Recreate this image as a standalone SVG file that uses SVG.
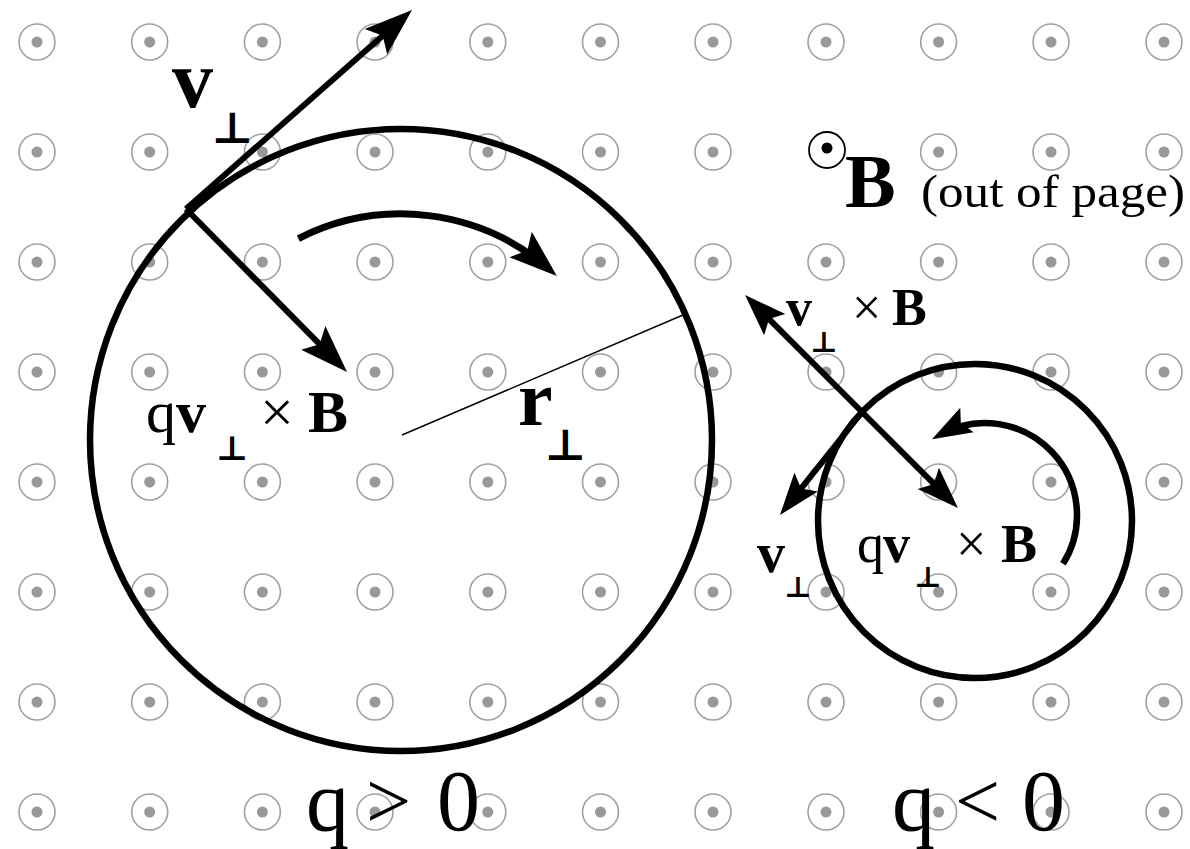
<svg xmlns="http://www.w3.org/2000/svg" xmlns:xlink="http://www.w3.org/1999/xlink" width="1190" height="849" viewBox="0 0 1190 849">
<style>
.orbit{fill:none;stroke:#000;stroke-width:6.5}
.arr{fill:none;stroke:#000;stroke-width:6;marker-end:url(#ah)}
.arrm{fill:none;stroke:#000;stroke-width:6;marker-end:url(#ahm)}
.arc{fill:none;stroke:#000;stroke-width:7;marker-end:url(#ah)}
.arcs{fill:none;stroke:#000;stroke-width:6.5;marker-end:url(#ahs)}
.thin{fill:none;stroke:#000;stroke-width:1.4}
text{font-family:"Liberation Serif","Times New Roman",serif;fill:#000}
.b{font-weight:bold}
.p{font-family:"DejaVu Serif","DejaVu Sans",serif;font-weight:bold}
</style>
<defs>
<g id="dot"><circle r="18" fill="none" stroke="#a0a0a0" stroke-width="1.6"/><circle r="5.5" fill="#999"/></g>
<marker id="ah" markerUnits="userSpaceOnUse" markerWidth="50" markerHeight="38" refX="38" refY="19" orient="auto"><path d="M0,2 L48,19 L0,36 L9,19 z" fill="#000"/></marker>
<marker id="ahm" markerUnits="userSpaceOnUse" markerWidth="44" markerHeight="34" refX="32" refY="17" orient="auto"><path d="M0,2 L42,17 L0,32 L8,17 z" fill="#000"/></marker>
<marker id="ahs" markerUnits="userSpaceOnUse" markerWidth="42" markerHeight="32" refX="30" refY="16" orient="auto"><path d="M0,2 L40,16 L0,30 L7,16 z" fill="#000"/></marker>
</defs>
<rect width="1190" height="849" fill="#fff"/>
<g id="field">
<use xlink:href="#dot" x="37" y="42"/><use xlink:href="#dot" x="149.7" y="42"/><use xlink:href="#dot" x="262.4" y="42"/><use xlink:href="#dot" x="375" y="42"/><use xlink:href="#dot" x="487.8" y="42"/><use xlink:href="#dot" x="600.5" y="42"/><use xlink:href="#dot" x="713" y="42"/><use xlink:href="#dot" x="826" y="42"/><use xlink:href="#dot" x="938.6" y="42"/><use xlink:href="#dot" x="1051" y="42"/><use xlink:href="#dot" x="1164" y="42"/>
<use xlink:href="#dot" x="37" y="152"/><use xlink:href="#dot" x="149.7" y="152"/><use xlink:href="#dot" x="262.4" y="152"/><use xlink:href="#dot" x="375" y="152"/><use xlink:href="#dot" x="487.8" y="152"/><use xlink:href="#dot" x="600.5" y="152"/><use xlink:href="#dot" x="713" y="152"/><use xlink:href="#dot" x="938.6" y="152"/><use xlink:href="#dot" x="1051" y="152"/><use xlink:href="#dot" x="1164" y="152"/>
<use xlink:href="#dot" x="37" y="262"/><use xlink:href="#dot" x="149.7" y="262"/><use xlink:href="#dot" x="262.4" y="262"/><use xlink:href="#dot" x="375" y="262"/><use xlink:href="#dot" x="487.8" y="262"/><use xlink:href="#dot" x="600.5" y="262"/><use xlink:href="#dot" x="713" y="262"/><use xlink:href="#dot" x="826" y="262"/><use xlink:href="#dot" x="938.6" y="262"/><use xlink:href="#dot" x="1051" y="262"/><use xlink:href="#dot" x="1164" y="262"/>
<use xlink:href="#dot" x="37" y="372"/><use xlink:href="#dot" x="149.7" y="372"/><use xlink:href="#dot" x="262.4" y="372"/><use xlink:href="#dot" x="375" y="372"/><use xlink:href="#dot" x="487.8" y="372"/><use xlink:href="#dot" x="600.5" y="372"/><use xlink:href="#dot" x="713" y="372"/><use xlink:href="#dot" x="826" y="372"/><use xlink:href="#dot" x="938.6" y="372"/><use xlink:href="#dot" x="1051" y="372"/><use xlink:href="#dot" x="1164" y="372"/>
<use xlink:href="#dot" x="37" y="482"/><use xlink:href="#dot" x="149.7" y="482"/><use xlink:href="#dot" x="262.4" y="482"/><use xlink:href="#dot" x="375" y="482"/><use xlink:href="#dot" x="487.8" y="482"/><use xlink:href="#dot" x="600.5" y="482"/><use xlink:href="#dot" x="713" y="482"/><use xlink:href="#dot" x="826" y="482"/><use xlink:href="#dot" x="938.6" y="482"/><use xlink:href="#dot" x="1051" y="482"/><use xlink:href="#dot" x="1164" y="482"/>
<use xlink:href="#dot" x="37" y="592"/><use xlink:href="#dot" x="149.7" y="592"/><use xlink:href="#dot" x="262.4" y="592"/><use xlink:href="#dot" x="375" y="592"/><use xlink:href="#dot" x="487.8" y="592"/><use xlink:href="#dot" x="600.5" y="592"/><use xlink:href="#dot" x="713" y="592"/><use xlink:href="#dot" x="826" y="592"/><use xlink:href="#dot" x="938.6" y="592"/><use xlink:href="#dot" x="1051" y="592"/><use xlink:href="#dot" x="1164" y="592"/>
<use xlink:href="#dot" x="37" y="702"/><use xlink:href="#dot" x="149.7" y="702"/><use xlink:href="#dot" x="262.4" y="702"/><use xlink:href="#dot" x="375" y="702"/><use xlink:href="#dot" x="487.8" y="702"/><use xlink:href="#dot" x="600.5" y="702"/><use xlink:href="#dot" x="713" y="702"/><use xlink:href="#dot" x="826" y="702"/><use xlink:href="#dot" x="938.6" y="702"/><use xlink:href="#dot" x="1051" y="702"/><use xlink:href="#dot" x="1164" y="702"/>
<use xlink:href="#dot" x="37" y="812"/><use xlink:href="#dot" x="149.7" y="812"/><use xlink:href="#dot" x="262.4" y="812"/><use xlink:href="#dot" x="375" y="812"/><use xlink:href="#dot" x="487.8" y="812"/><use xlink:href="#dot" x="600.5" y="812"/><use xlink:href="#dot" x="713" y="812"/><use xlink:href="#dot" x="826" y="812"/><use xlink:href="#dot" x="938.6" y="812"/><use xlink:href="#dot" x="1051" y="812"/><use xlink:href="#dot" x="1164" y="812"/>
</g>
<g id="orbit-positive"><circle class="orbit" cx="401" cy="440" r="311"/></g>
<g id="orbit-negative"><circle class="orbit" cx="975" cy="521" r="157"/></g>
<g id="connectors">
<line class="arr" x1="186" y1="209" x2="404.5" y2="16.6"/>
<line class="arr" x1="186" y1="209" x2="340" y2="364.9"/>
<path class="arc" d="M298.4,238.6 A226,226 0 0 1 549.3,269.4"/>
<line class="thin" x1="402" y1="435" x2="683" y2="315"/>
<line class="arrm" x1="862" y1="412" x2="752.1" y2="302.1"/>
<line class="arrm" x1="862" y1="412" x2="950.9" y2="500.9"/>
<line class="arrm" x1="862" y1="412" x2="786.2" y2="507.2"/>
<path class="arcs" d="M1063,563.8 A92,92 0 0 0 940.7,434.4"/>
</g>
<g id="legend-B">
<circle cx="827" cy="150" r="18" fill="none" stroke="#000" stroke-width="1.8"/><circle cx="827" cy="148" r="5.5" fill="#000"/>
<text x="845" y="207" class="b" font-size="76">B</text>
<text x="921" y="207" font-size="46" textLength="264" lengthAdjust="spacingAndGlyphs">(out of page)</text>
</g>
<g id="label-v-left"><text><tspan x="172" y="107" class="b" font-size="82">v</tspan><tspan x="232" y="143" class="p" font-size="44" text-anchor="middle">⊥</tspan></text></g>
<g id="label-force-left"><text font-size="60"><tspan x="146" y="432">q</tspan><tspan x="176" y="432" class="b">v</tspan><tspan x="232" y="460" class="p" font-size="34" text-anchor="middle">⊥</tspan><tspan x="260" y="432">×</tspan><tspan x="308" y="432" class="b">B</tspan></text></g>
<g id="label-r"><text><tspan x="518" y="425" class="b" font-size="78">r</tspan><tspan x="565" y="460" class="p" font-size="44" text-anchor="middle">⊥</tspan></text></g>
<g id="label-force-right-outer"><text font-size="52"><tspan x="786" y="325" class="b">v</tspan><tspan x="824" y="352" class="p" font-size="29" text-anchor="middle">⊥</tspan><tspan x="852" y="325">×</tspan><tspan x="892" y="325" class="b">B</tspan></text></g>
<g id="label-force-right-inner"><text font-size="54"><tspan x="857" y="562">q</tspan><tspan x="883" y="562" class="b">v</tspan><tspan x="928" y="587" class="p" font-size="29" text-anchor="middle">⊥</tspan><tspan x="956" y="562">×</tspan><tspan x="1001" y="562" class="b">B</tspan></text></g>
<g id="label-v-right"><text><tspan x="757" y="572" class="b" font-size="56">v</tspan><tspan x="798" y="597" class="p" font-size="29" text-anchor="middle">⊥</tspan></text></g>
<g id="label-qpos"><text font-size="86"><tspan x="306" y="830">q</tspan><tspan x="366" y="828" font-size="80">&gt;</tspan><tspan x="437" y="830">0</tspan></text></g>
<g id="label-qneg"><text font-size="86"><tspan x="892" y="830">q</tspan><tspan x="955" y="828" font-size="80">&lt;</tspan><tspan x="1022" y="830">0</tspan></text></g>
</svg>
